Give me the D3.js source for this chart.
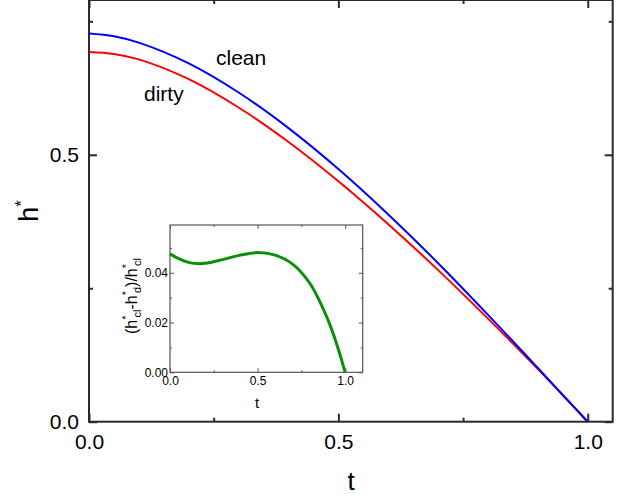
<!DOCTYPE html>
<html>
<head>
    <title>h* vs t, clean and dirty</title>
    <meta charset="UTF-8">
    <script type="text/javascript" src="https://cdn.jsdelivr.net/npm/d3@7/dist/d3.min.js"></script>
    <style>
        body { margin: 0; background: #ffffff; }
        svg { display: block; font-family: Arial, "Liberation Sans", sans-serif; }
    </style>
</head>
<body>
<svg class="chart" width="628" height="496"></svg>
<script type="text/javascript">
    // main curves
    var tValues = [0, 0.05, 0.1, 0.2, 0.3, 0.4, 0.5, 0.6, 0.7, 0.8, 0.9, 0.95, 1.0];
    var cleanValues = [0.7273, 0.7222, 0.7101, 0.6712, 0.6167, 0.5500, 0.4733, 0.3882, 0.2969, 0.2002, 0.1006, 0.0501, 0];
    var dirtyValues = [0.6927, 0.6890, 0.6787, 0.6417, 0.5886, 0.5240, 0.4505, 0.3700, 0.2840, 0.1931, 0.0984, 0.0496, 0];

    // inset curve
    var insetT = [0, 0.05, 0.1, 0.15, 0.2, 0.3, 0.4, 0.5, 0.6, 0.7, 0.8, 0.9, 0.95, 1.0];
    var ratioValues = [0.0476, 0.0457, 0.0443, 0.0437, 0.0438, 0.0453, 0.0471, 0.0481, 0.0471, 0.0435, 0.0356, 0.0214, 0.0117, 0];

    // ticks
    var mainXTicks = [0, 0.5, 1.0];
    var mainXMinor = [0.25, 0.75];
    var mainYTicks = [0, 0.5];
    var mainYMinor = [0.25, 0.75];
    var insetXTicks = [0, 0.5, 1.0];
    var insetXMinor = [0.25, 0.75];
    var insetYTicks = [0, 0.02, 0.04];
    var insetYMinor = [0.01, 0.03, 0.05];

    var svg = d3.select(".chart");
    var axisColor = "#2b2b2b";

    /* ---------- main plot ---------- */
    var plotLeft = 89, plotRight = 612.7, plotTop = 0, plotBottom = 421.7;

    var x = d3.scaleLinear().domain([0, 1.05]).range([plotLeft, plotRight]);
    var y = d3.scaleLinear().domain([0, 0.79]).range([plotBottom, plotTop]);

    function drawAxes(g, xs, ys, opts) {
        var x0 = xs.range()[0], x1 = xs.range()[1];
        var y0 = ys.range()[0], y1 = ys.range()[1];

        // bottom + top
        g.append("g").attr("transform", "translate(0," + y0 + ")")
            .call(d3.axisBottom(xs).tickValues(opts.xTicks).tickSize(-opts.major)
                .tickPadding(opts.xPad).tickFormat(d3.format(opts.xFmt)));
        g.append("g").attr("transform", "translate(0," + y0 + ")")
            .call(d3.axisBottom(xs).tickValues(opts.xMinor).tickSize(-opts.minor).tickFormat(""));
        g.append("g").attr("transform", "translate(0," + y1 + ")")
            .call(d3.axisTop(xs).tickValues(opts.xTicks).tickSize(-opts.major).tickFormat(""));
        g.append("g").attr("transform", "translate(0," + y1 + ")")
            .call(d3.axisTop(xs).tickValues(opts.xMinor).tickSize(-opts.minor).tickFormat(""));

        // left + right
        g.append("g").attr("transform", "translate(" + x0 + ",0)")
            .call(d3.axisLeft(ys).tickValues(opts.yTicks).tickSize(-opts.major)
                .tickPadding(opts.yPad).tickFormat(d3.format(opts.yFmt)));
        g.append("g").attr("transform", "translate(" + x0 + ",0)")
            .call(d3.axisLeft(ys).tickValues(opts.yMinor).tickSize(-opts.minor).tickFormat(""));
        g.append("g").attr("transform", "translate(" + x1 + ",0)")
            .call(d3.axisRight(ys).tickValues(opts.yTicks).tickSize(-opts.major).tickFormat(""));
        g.append("g").attr("transform", "translate(" + x1 + ",0)")
            .call(d3.axisRight(ys).tickValues(opts.yMinor).tickSize(-opts.minor).tickFormat(""));

        g.selectAll(".domain").remove();
        g.selectAll(".tick line").attr("stroke", opts.color).attr("stroke-width", opts.tickWidth);
        g.selectAll(".tick text")
            .attr("fill", "#000")
            .style("font-family", "Arial, 'Liberation Sans', sans-serif")
            .style("font-size", opts.fontSize + "px");

        // frame
        g.append("rect")
            .attr("x", x0).attr("y", y1)
            .attr("width", x1 - x0).attr("height", y0 - y1)
            .attr("fill", "none")
            .attr("stroke", opts.color)
            .attr("stroke-width", opts.frameWidth);
    }

    var mainG = svg.append("g");
    drawAxes(mainG, x, y, {
        xTicks: mainXTicks, xMinor: mainXMinor, yTicks: mainYTicks, yMinor: mainYMinor,
        major: 8, minor: 4, xPad: 12, yPad: 10, xFmt: ".1f", yFmt: ".1f",
        color: axisColor, tickWidth: 2, frameWidth: 2, fontSize: 21
    });

    var line = d3.line()
        .x(function (d) { return x(d[0]); })
        .y(function (d) { return y(d[1]); })
        .curve(d3.curveCatmullRom.alpha(0.5));

    mainG.append("path")
        .datum(d3.zip(tValues, dirtyValues))
        .attr("d", line)
        .attr("fill", "none")
        .attr("stroke", "#ff0000")
        .attr("stroke-width", 2);

    mainG.append("path")
        .datum(d3.zip(tValues, cleanValues))
        .attr("d", line)
        .attr("fill", "none")
        .attr("stroke", "#0000ff")
        .attr("stroke-width", 2);

    mainG.append("text").attr("x", 216).attr("y", 65)
        .style("font-size", "21px").text("clean");
    mainG.append("text").attr("x", 144).attr("y", 101)
        .style("font-size", "21px").text("dirty");

    // axis titles
    svg.append("text")
        .attr("x", 351).attr("y", 490)
        .attr("text-anchor", "middle")
        .style("font-size", "26px")
        .text("t");

    var hLabel = svg.append("text")
        .attr("transform", "translate(38,211) rotate(-90)")
        .attr("text-anchor", "middle")
        .style("font-size", "27px");
    hLabel.append("tspan").text("h");
    hLabel.append("tspan").attr("dy", -11).style("font-size", "17px").text("*");

    /* ---------- inset ---------- */
    var ix = d3.scaleLinear().domain([0, 1.1]).range([170, 362.7]);
    var iy = d3.scaleLinear().domain([0, 0.0592]).range([372.3, 225]);

    var insetG = svg.append("g");
    insetG.append("rect")
        .attr("x", 170).attr("y", 225)
        .attr("width", 192.7).attr("height", 147.3)
        .attr("fill", "#fff");

    drawAxes(insetG, ix, iy, {
        xTicks: insetXTicks, xMinor: insetXMinor, yTicks: insetYTicks, yMinor: insetYMinor,
        major: 4, minor: 2, xPad: 4, yPad: 2, xFmt: ".1f", yFmt: ".2f",
        color: "#555555", tickWidth: 1, frameWidth: 1.2, fontSize: 12
    });

    var insetLine = d3.line()
        .x(function (d) { return ix(d[0]); })
        .y(function (d) { return iy(d[1]); })
        .curve(d3.curveCatmullRom.alpha(0.5));

    insetG.append("path")
        .datum(d3.zip(insetT, ratioValues))
        .attr("d", insetLine)
        .attr("fill", "none")
        .attr("stroke", "#0a8f0a")
        .attr("stroke-width", 3);

    insetG.append("text")
        .attr("x", 257).attr("y", 408)
        .attr("text-anchor", "middle")
        .style("font-size", "15px")
        .text("t");

    // (h*cl - h*d)/h*cl, star raised, subscript lowered
    var rLabel = insetG.append("text")
        .attr("transform", "translate(137,296) rotate(-90)")
        .attr("text-anchor", "middle")
        .style("font-size", "16px");
    var labelParts = [
        { t: "(h", dy: 0 }, { t: "*", dy: -7, small: true }, { t: "cl", dy: 11, dx: -2, small: true },
        { t: "-h", dy: -4 }, { t: "*", dy: -7, small: true }, { t: "d", dy: 11, dx: -2, small: true },
        { t: ")/h", dy: -4 }, { t: "*", dy: -7, small: true }, { t: "cl", dy: 11, dx: -2, small: true }
    ];
    labelParts.forEach(function (p) {
        var ts = rLabel.append("tspan").attr("dy", p.dy).text(p.t);
        if (p.dx) { ts.attr("dx", p.dx); }
        if (p.small) { ts.style("font-size", "11px"); }
    });
</script>
</body>
</html>
